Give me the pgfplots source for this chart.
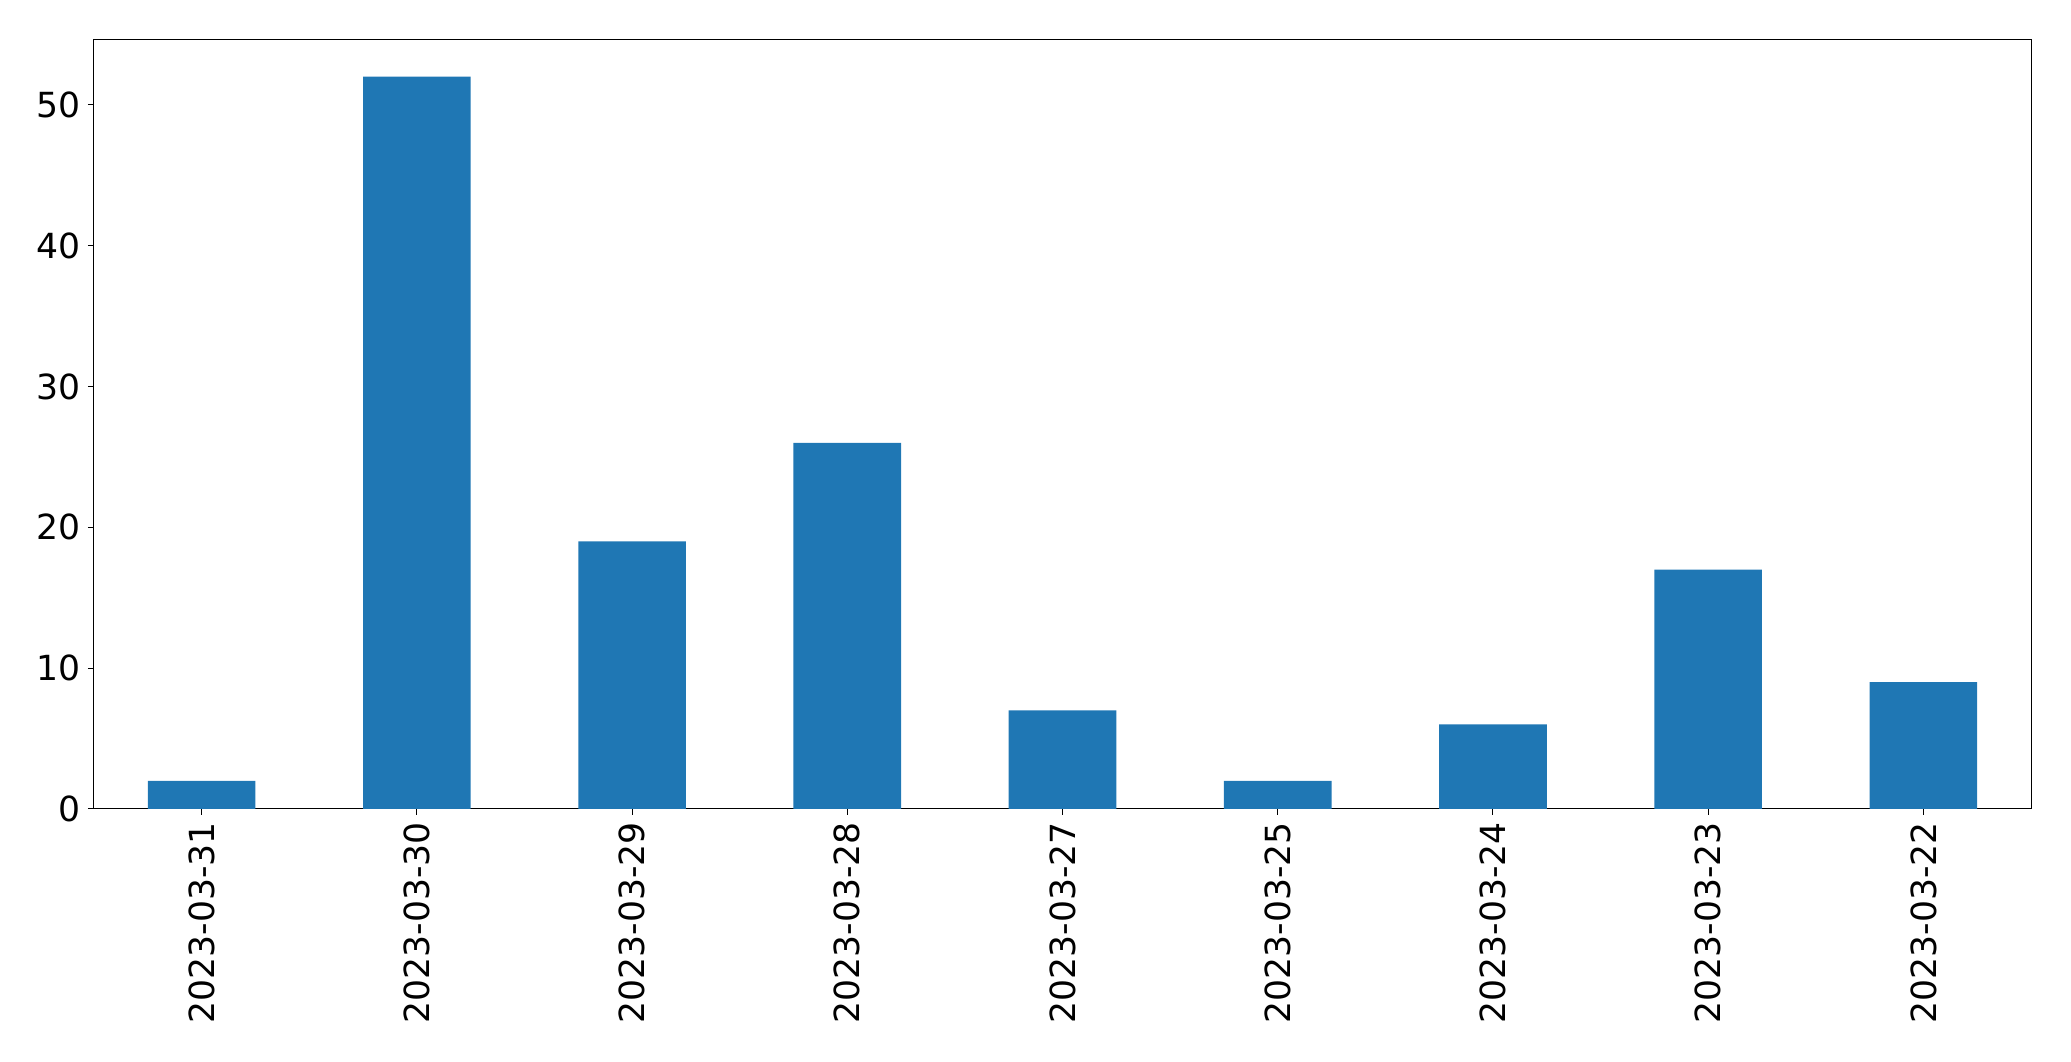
\documentclass[border=0pt]{standalone}
\usepackage{pgfplots}
\pgfplotsset{compat=1.18}
\usepackage{fontspec}
\setmainfont{DejaVu Sans}
\usetikzlibrary{calc}
\definecolor{barblue}{HTML}{1F77B4}
\begin{document}
\begin{tikzpicture}
\begin{axis}[
  scale only axis,
  width=968.5pt, height=384.5pt,
  xmin=-0.5, xmax=8.5,
  ymin=0, ymax=54.6,
  xtick={0,1,2,3,4,5,6,7,8},
  xticklabels={2023-03-31,2023-03-30,2023-03-29,2023-03-28,2023-03-27,2023-03-25,2023-03-24,2023-03-23,2023-03-22},
  xticklabel style={rotate=90, anchor=east},
  ytick={0,10,20,30,40,50},
  tick align=outside,
  tick pos=left,
  major tick length=3pt,
  tick style={black, line width=0.5pt},
  axis line style={line width=0.5pt},
  ticklabel style={font=\fontsize{17.3}{21}\selectfont},
  /pgf/number format/assume math mode=true,
  ymajorgrids=false,
]
\addplot[ybar, bar width=0.5, fill=barblue, draw=none, bar shift=0pt]
  coordinates {(0,2) (1,52) (2,19) (3,26) (4,7) (5,2) (6,6) (7,17) (8,9)};
\end{axis}
\path[use as bounding box] ($(current axis.south west)+(-47pt,-126.5pt)$) rectangle ($(current axis.north east)+(20pt,20pt)$);
\end{tikzpicture}
\end{document}
